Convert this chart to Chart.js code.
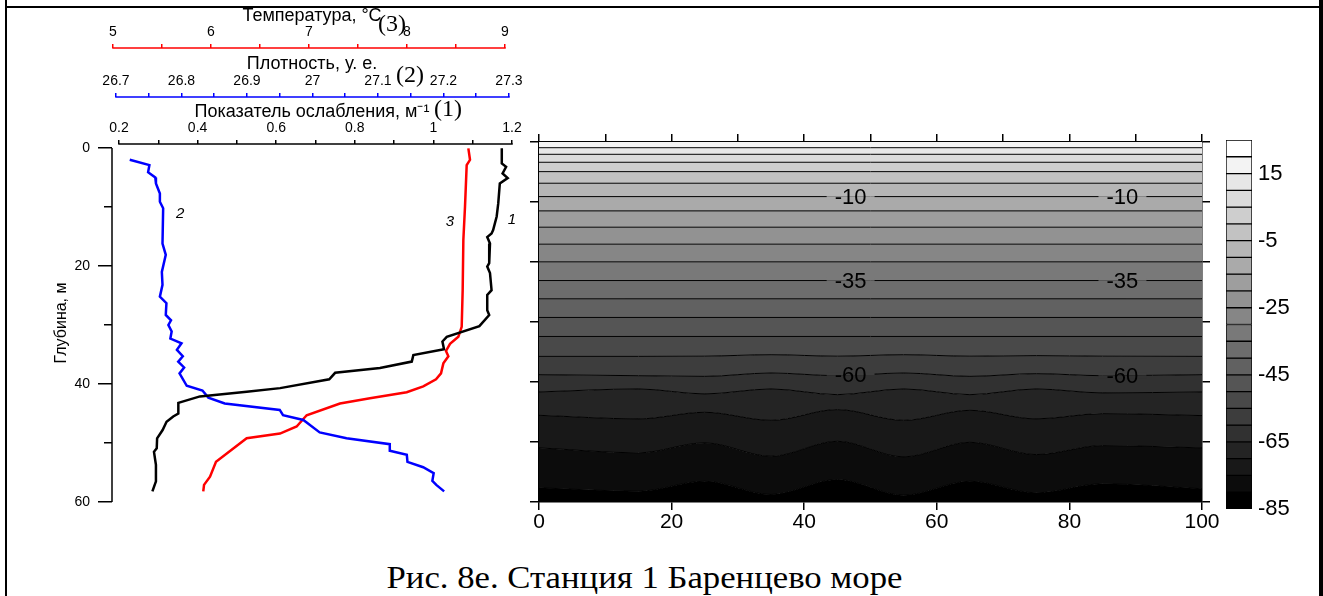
<!DOCTYPE html>
<html><head><meta charset="utf-8">
<script src="https://cdn.jsdelivr.net/npm/chart.js@4.4.1/dist/chart.umd.min.js"></script>
<style>
html,body{margin:0;padding:0;background:#fff;}
body{width:1323px;height:596px;position:relative;overflow:hidden;}
canvas{position:absolute;}
.frame{position:absolute;background:#000;}
#caption{position:absolute;left:0;width:1289px;top:563px;text-align:center;font-family:"Liberation Serif","Times New Roman",serif;font-size:31px;line-height:30px;color:#000;white-space:nowrap;transform:scaleX(1.12);transform-origin:644.5px 0;}
</style></head><body>
<div class="frame" style="left:5px;top:0;width:2px;height:596px"></div>
<div class="frame" style="left:5px;top:6px;width:1316px;height:2px"></div>
<div class="frame" style="left:1319px;top:0;width:4px;height:596px"></div>
<canvas id="profile" width="530" height="520" style="left:0;top:0"></canvas>
<canvas id="section" width="740" height="420" style="left:480px;top:120px"></canvas>
<canvas id="cbar" width="110" height="410" style="left:1210px;top:120px"></canvas>
<div id="caption">Рис. 8е. Станция 1 Баренцево море</div>
<script>
// ---------------- DATA ----------------
// Profile (left panel): depth, m
const extDepth = [0.05,2.6,3.2,4.3,5.1,6.0,9.4,11.6,13.9,14.5,15.1,16.2,19.5,20.1,21.2,24.1,24.9,27.5,28.3,30.2,32.0,32.8,34.1,35.1,36.2,37.3,38.1,39.2,40.7,41.3,42.1,43.2,45.0,45.5,46.4,47.8,49.2,50.9,51.5,53.7,56.5,58.2];
const extValue = [1.174,1.174,1.185,1.176,1.189,1.169,1.165,1.161,1.152,1.148,1.137,1.144,1.142,1.137,1.144,1.148,1.137,1.137,1.142,1.117,1.034,1.023,1.027,0.949,0.945,0.864,0.750,0.735,0.610,0.525,0.406,0.351,0.351,0.338,0.321,0.311,0.297,0.296,0.289,0.294,0.294,0.285];
const densDepth = [2.0,2.9,4.1,5.0,6.0,7.7,9.1,10.2,16.2,18.1,21.0,23.2,25.2,26.3,28.3,29.2,30.0,31.1,32.3,33.1,34.2,35.3,36.2,37.2,38.2,40.3,41.1,42.3,43.3,44.4,45.3,46.1,48.2,49.2,50.2,51.3,52.0,53.2,54.1,55.1,56.4,57.1,58.2];
const densValue = [26.721,26.751,26.749,26.760,26.761,26.767,26.767,26.772,26.771,26.776,26.770,26.771,26.767,26.777,26.776,26.784,26.780,26.785,26.783,26.800,26.793,26.802,26.795,26.804,26.797,26.808,26.832,26.841,26.866,26.950,26.955,26.986,27.011,27.052,27.118,27.118,27.144,27.145,27.169,27.185,27.183,27.189,27.201];
const tempDepth = [0.05,2.0,2.9,9.9,15.6,24.1,30.3,32.0,33.2,34.4,35.3,36.5,38.2,39.2,40.4,41.4,42.4,43.3,45.3,47.2,48.4,49.2,53.2,55.7,57.1,58.2];
const tempValue = [8.626,8.643,8.609,8.592,8.575,8.568,8.558,8.524,8.439,8.398,8.422,8.371,8.347,8.296,8.166,7.997,7.622,7.316,6.976,6.874,6.704,6.364,6.051,5.990,5.929,5.921];

const depthTicks = [0,20,40,60];
const depthMinorTicks = [10,30,50];
const extTicks = [0.2,0.3,0.4,0.5,0.6,0.7,0.8,0.9,1.0,1.1,1.2];
const densTicks = [26.7,26.75,26.8,26.85,26.9,26.95,27.0,27.05,27.1,27.15,27.2,27.25,27.3];
const tempTicks = [5,5.5,6,6.5,7,7.5,8,8.5,9];
const curveLabels = ['1','2','3'];
const curveLabelValue = [1.2, 26.798, 8.439];
const curveLabelDepth = [12.2, 11.1, 12.5];

// Section (right panel)
const sectionX = [0,15,25,35,45,55,65,75,85,100];
const flatLevels = [15,10,5,0,-5,-10,-15,-20,-25,-30,-35,-40,-45,-50];
const flatLevelDepths = [0.95,2.05,3.38,4.94,6.87,9.10,11.48,14.20,17.03,19.97,23.09,26.13,29.24,32.41];
const wavyLevels = [-55,-60,-65,-70,-75,-80];
const depthM55 = [35.73,35.73,35.70,35.45,35.70,35.45,35.70,35.60,35.70,35.73];
const depthM60 = [38.78,38.95,39.06,38.50,38.95,38.50,39.06,38.61,38.95,38.78];
const depthM65 = [41.66,41.16,41.99,41.16,42.11,41.16,42.11,41.16,41.82,41.66];
const depthM70 = [45.55,46.15,45.05,46.39,44.60,46.39,44.72,46.15,45.27,45.60];
const depthM75 = [50.98,51.81,50.15,52.38,49.88,52.48,50.05,52.10,50.60,50.98];
const depthM80 = [57.64,58.20,56.54,58.75,56.26,58.87,56.54,58.47,56.97,57.80];
const labeledLevels = [-10,-35,-60];
const labelPositionsX = [47,88];
const sectionTicksBottom = [0,20,40,60,80,100];

// Colour scale
const colorbarBounds = [25,20,15,10,5,0,-5,-10,-15,-20,-25,-30,-35,-40,-45,-50,-55,-60,-65,-70,-75,-80,-85];
const colorbarTicks = [15,-5,-25,-45,-65,-85];

// ---------------- STYLE / HELPERS ----------------
const FONT = 'Arial, "Liberation Sans", sans-serif';
Chart.defaults.font.family = FONT;
Chart.defaults.color = '#000';
Chart.defaults.animation = false;
Chart.defaults.events = [];
Chart.defaults.plugins.legend.display = false;
Chart.defaults.plugins.tooltip.enabled = false;
Chart.defaults.elements.point.radius = 0;

function grayOf(lo){ const g = Math.round(255*(lo+85)/105); return `rgb(${g},${g},${g})`; }
const pts = (xs, ys) => xs.map((v,i)=>({x:v, y:ys[i]}));
const fmt = v => String(Math.round(v*100)/100);

function topAxis(ticksArr, min, max, color, title, every, height, weight, titlePad){
  return {
    type:'linear', position:'top', min, max, weight,
    afterBuildTicks: s => { s.ticks = ticksArr.map(v=>({value:v})); },
    afterFit: s => { s.height = height; },
    grid:{ drawOnChartArea:false, drawTicks:true, tickLength:4, color, lineWidth:1.5 },
    border:{ display:false },
    ticks:{ autoSkip:false, maxRotation:0, padding:3, color:'#000', font:{size:14},
      callback:(v,i)=> (i % every === 0) ? fmt(v) : '' },
    title:{ display:true, text:title, color:'#000', font:{size:18}, padding:{top:titlePad,bottom:0} }
  };
}

// ---------------- LEFT PROFILE CHART ----------------
const topAxes = [['xExt','#000'],['xDens','#0000ff'],['xTemp','#ff0000']];
const leftDecor = {
  id:'leftDecor',
  afterDraw(chart){
    const ctx = chart.ctx;
    ctx.save();
    topAxes.forEach(([id,color])=>{
      const s = chart.scales[id]; const t = s.ticks;
      ctx.strokeStyle = color; ctx.lineWidth = 1.5;
      ctx.beginPath();
      ctx.moveTo(s.getPixelForValue(t[0].value)-0.75, s.bottom);
      ctx.lineTo(s.getPixelForValue(t[t.length-1].value)+0.75, s.bottom);
      ctx.stroke();
    });
    const y = chart.scales.y;
    ctx.strokeStyle = '#000'; ctx.lineWidth = 1.5;
    ctx.beginPath();
    ctx.moveTo(chart.chartArea.left, y.getPixelForValue(depthTicks[0]));
    ctx.lineTo(chart.chartArea.left, y.getPixelForValue(depthTicks[depthTicks.length-1]));
    ctx.stroke();
    // curve numbers
    ctx.font = 'italic 15px ' + FONT; ctx.fillStyle = '#000';
    ctx.textAlign = 'center'; ctx.textBaseline = 'middle';
    topAxes.forEach(([id],i)=>{
      ctx.fillText(curveLabels[i], chart.scales[id].getPixelForValue(curveLabelValue[i]), y.getPixelForValue(curveLabelDepth[i]));
    });
    // series numbers on axis titles
    ctx.font = '24px "Liberation Serif", "Times New Roman", serif';
    ctx.fillText('(3)', 392, 25);
    ctx.fillText('(2)', 410, 76);
    ctx.fillText('(1)', 448, 110);
    ctx.restore();
  }
};

new Chart(document.getElementById('profile'), {
  type:'line',
  data:{ datasets:[
    { label:'1', data: pts(extValue, extDepth), xAxisID:'xExt', yAxisID:'y', borderColor:'#000', borderWidth:2.5, fill:false },
    { label:'2', data: pts(densValue, densDepth), xAxisID:'xDens', yAxisID:'y', borderColor:'#0000ff', borderWidth:2.5, fill:false },
    { label:'3', data: pts(tempValue, tempDepth), xAxisID:'xTemp', yAxisID:'y', borderColor:'#ff0000', borderWidth:2.5, fill:false }
  ]},
  options:{
    responsive:false, maintainAspectRatio:false,
    layout:{ padding:{ left:0, right:18, top:0, bottom:18 } },
    scales:{
      xExt: topAxis(extTicks, 0.1822, 1.2, '#000', 'Показатель ослабления, м⁻¹', 2, 47, 1, 4),
      xDens: topAxis(densTicks, 26.6939, 27.3046, '#0000ff', 'Плотность, у. е.', 2, 49, 2, 5),
      xTemp: topAxis(tempTicks, 4.9898, 9.0714, '#ff0000', 'Температура, °С', 2, 48, 3, 5),
      yMinor:{ type:'linear', position:'left', min:-0.68, max:60, reverse:true, weight:1,
        afterBuildTicks: s => { s.ticks = depthMinorTicks.map(v=>({value:v})); },
        afterFit: s => { s.width = 0; },
        grid:{ drawOnChartArea:false, drawTicks:true, tickLength:8, color:'#000', lineWidth:1.5 },
        border:{ display:false }, ticks:{ display:false } },
      y:{ type:'linear', position:'left', min:-0.68, max:60, reverse:true, weight:2,
        afterBuildTicks: s => { s.ticks = depthTicks.map(v=>({value:v})); },
        afterFit: s => { s.width = 112; },
        grid:{ drawOnChartArea:false, drawTicks:true, tickLength:14, color:'#000', lineWidth:1.5 },
        border:{ display:false },
        ticks:{ autoSkip:false, padding:8, font:{size:14}, color:'#000' },
        title:{ display:true, text:'Глубина, м', font:{size:16}, color:'#000', padding:{top:52,bottom:0} } }
    }
  },
  plugins:[leftDecor]
});

// ---------------- RIGHT SECTION CHART ----------------
const wavyArrays = [depthM55, depthM60, depthM65, depthM70, depthM75, depthM80];
const levelLines = flatLevels.map((L,i)=>({level:L, data:[{x:sectionX[0],y:flatLevelDepths[i]},{x:sectionX[sectionX.length-1],y:flatLevelDepths[i]}]}))
  .concat(wavyLevels.map((L,i)=>({level:L, data:pts(sectionX, wavyArrays[i])})));

function depthOfLevel(L, xv){
  const line = levelLines.find(l=>l.level===L).data;
  for(let i=0;i<line.length-1;i++){
    if(xv>=line[i].x && xv<=line[i+1].x){
      const t=(xv-line[i].x)/(line[i+1].x-line[i].x);
      return line[i].y + t*(line[i+1].y-line[i].y);
    }
  }
  return line[line.length-1].y;
}

const secDatasets = [{
  data:[{x:sectionX[0],y:0},{x:sectionX[sectionX.length-1],y:0}],
  fill:'+1', backgroundColor:grayOf(flatLevels[0]), borderWidth:0, borderColor:'rgba(0,0,0,0)'
}].concat(levelLines.map((l,k)=>({
  data:l.data,
  fill: k < levelLines.length-1 ? '+1' : {value:60},
  backgroundColor: grayOf(l.level-5),
  borderColor:'#000', borderWidth:1,
  cubicInterpolationMode:'monotone'
})));

const sectionLabels = {
  id:'sectionLabels',
  afterDatasetsDraw(chart){
    const {ctx, scales:{x,y}} = chart;
    ctx.save();
    ctx.font = '22px ' + FONT; ctx.textAlign='center'; ctx.textBaseline='middle';
    labeledLevels.forEach(L=>{
      const txt = String(L);
      const w = ctx.measureText(txt).width + 16;
      labelPositionsX.forEach(xv=>{
        const px = x.getPixelForValue(xv), py = y.getPixelForValue(depthOfLevel(L, xv));
        ctx.fillStyle = grayOf(L); ctx.fillRect(px-w/2, py-3, w, 3);
        ctx.fillStyle = grayOf(L-5); ctx.fillRect(px-w/2, py, w, 3);
        ctx.fillStyle = '#000'; ctx.fillText(txt, px, py+1);
      });
    });
    ctx.restore();
  }
};

const frameGrid = { drawOnChartArea:false, drawTicks:true, color:'#000', lineWidth:1.5 };
const frameBorder = { display:true, color:'#000', width:1.5 };
new Chart(document.getElementById('section'), {
  type:'line',
  data:{ datasets: secDatasets },
  options:{
    responsive:false, maintainAspectRatio:false,
    layout:{ padding:0 },
    plugins:{ filler:{ drawTime:'beforeDatasetsDraw' } },
    scales:{
      x:{ type:'linear', position:'bottom', min:0, max:100,
        afterBuildTicks: s => { s.ticks = sectionTicksBottom.map(v=>({value:v})); },
        afterFit: s => { s.height = 38; },
        grid:{...frameGrid, tickLength:8}, border:frameBorder,
        ticks:{ autoSkip:false, maxRotation:0, padding:0, font:{size:21}, color:'#000' } },
      xTop:{ type:'linear', position:'top', min:0, max:100,
        afterFit: s => { s.height = 22; },
        grid:{...frameGrid, tickLength:8}, border:frameBorder,
        ticks:{ display:false, stepSize:10 } },
      y:{ type:'linear', position:'left', min:0, max:60, reverse:true,
        afterFit: s => { s.width = 59; },
        grid:{...frameGrid, tickLength:9}, border:frameBorder,
        ticks:{ display:false, stepSize:10 } },
      yRight:{ type:'linear', position:'right', min:0, max:60, reverse:true,
        afterFit: s => { s.width = 18; },
        grid:{...frameGrid, tickLength:8}, border:frameBorder,
        ticks:{ display:false, stepSize:10 } }
    }
  },
  plugins:[sectionLabels]
});

// ---------------- COLOUR BAR ----------------
const cbDatasets = colorbarBounds.slice(1).map((lo,i)=>({
  data:[[lo, colorbarBounds[i]]],
  backgroundColor: grayOf(lo), borderColor:'#000', borderWidth:1, borderSkipped:false,
  grouped:false, barPercentage:1, categoryPercentage:1
}));
new Chart(document.getElementById('cbar'), {
  type:'bar',
  data:{ labels:[''], datasets: cbDatasets },
  options:{
    responsive:false, maintainAspectRatio:false,
    layout:{ padding:{ left:16, top:20, bottom:21, right:0 } },
    scales:{
      x:{ display:false },
      y:{ type:'linear', position:'right', min:colorbarBounds[colorbarBounds.length-1], max:colorbarBounds[0],
        afterBuildTicks: s => { s.ticks = colorbarTicks.map(v=>({value:v})); },
        afterFit: s => { s.width = 68; },
        grid:{ display:false, drawTicks:false }, border:{ display:false },
        ticks:{ autoSkip:false, padding:6, font:{size:22}, color:'#000' } }
    }
  }
});
</script>
</body></html>
